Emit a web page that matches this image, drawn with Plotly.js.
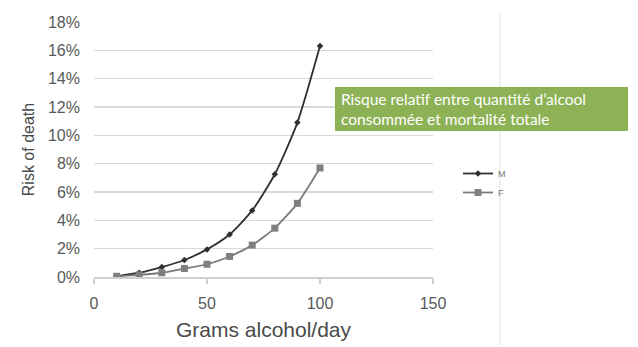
<!DOCTYPE html>
<html>
<head>
<meta charset="utf-8">
<script src="https://cdn.plot.ly/plotly-3.0.1.min.js"></script>
<style>html,body{margin:0;padding:0;background:#fff;}#chart{width:638px;height:347px;}</style>
</head>
<body>
<div id="chart"></div>
<script>
// Data
const grams = [10, 20, 30, 40, 50, 60, 70, 80, 90, 100];
const riskM = [0.05, 0.3, 0.7, 1.2, 1.95, 3.0, 4.7, 7.25, 10.9, 16.3];
const riskF = [0.05, 0.15, 0.3, 0.6, 0.9, 1.45, 2.25, 3.45, 5.2, 7.7];
const seriesNames = ['M', 'F'];
const yTicks = [0, 2, 4, 6, 8, 10, 12, 14, 16, 18];
const xTicks = [0, 50, 100, 150];
const boxText = 'Risque relatif entre quantité d’alcool<br>consommée et mortalité totale';

// Layout geometry (pixels)
const W = 638, H = 347;
const L = 94, R = 433, T = 22, B = 277;
const px = x => (x - L) / (R - L);
const py = y => (B - y) / (B - T);

const traces = [
  {
    x: grams, y: riskM, name: seriesNames[0], type: 'scatter', mode: 'lines+markers',
    line: {color: '#303030', width: 1.8, shape: 'spline', smoothing: 0.6},
    marker: {symbol: 'diamond', size: 5, color: '#303030'}
  },
  {
    x: grams, y: riskF, name: seriesNames[1], type: 'scatter', mode: 'lines+markers',
    line: {color: '#7a7a7a', width: 1.8, shape: 'spline', smoothing: 0.6},
    marker: {symbol: 'square', size: 7, color: '#7f7f7f'}
  }
];

const layout = {
  width: W, height: H,
  margin: {l: L, r: W - R, t: T, b: H - B, pad: 0},
  paper_bgcolor: '#ffffff', plot_bgcolor: '#ffffff',
  font: {family: 'Liberation Sans, Arial, sans-serif', color: '#555555'},
  showlegend: true,
  legend: {
    x: px(458), y: py(159), xanchor: 'left', yanchor: 'top',
    font: {size: 9, color: '#777777'}, itemwidth: 30,
    bgcolor: 'rgba(0,0,0,0)', tracegroupgap: 0
  },
  xaxis: {
    range: [0, 150], tickvals: xTicks, ticktext: xTicks.map(String),
    showgrid: false, zeroline: false,
    showline: true, linecolor: '#cfcfcf', linewidth: 1.5,
    ticks: 'outside', ticklen: 5, tickcolor: '#cfcfcf', tickwidth: 1.5,
    ticklabelstandoff: 6,
    tickfont: {size: 16, color: '#595959'},
    title: {text: 'Grams alcohol/day', font: {size: 21, color: '#4a4a4a'}, standoff: 11},
    fixedrange: true
  },
  yaxis: {
    range: [0, 18], tickvals: yTicks, ticktext: yTicks.map(v => v + '%'),
    showgrid: true, gridcolor: '#d9d9d9', gridwidth: 1.5,
    zeroline: false, showline: false, ticks: '',
    ticklabelstandoff: 13,
    tickfont: {size: 16, color: '#595959'},
    title: {text: 'Risk of death', font: {size: 16, color: '#4a4a4a'}, standoff: 9},
    fixedrange: true
  },
  shapes: [
    {type: 'line', xref: 'paper', yref: 'paper', x0: px(500), x1: px(500), y0: py(14), y1: py(345),
     line: {color: '#e0e0e0', width: 1}},
    {type: 'rect', xref: 'paper', yref: 'paper', x0: px(335), x1: px(628), y0: py(131), y1: py(87),
     fillcolor: '#8db255', line: {width: 0}, layer: 'above'}
  ],
  annotations: [
    {xref: 'paper', yref: 'paper', x: px(339), y: py(109), xanchor: 'left', yanchor: 'middle',
     text: boxText, showarrow: false, align: 'left',
     font: {family: 'Lato, Open Sans, sans-serif', size: 15.5, color: '#ffffff'}}
  ]
};

Plotly.newPlot('chart', traces, layout, {displayModeBar: false, staticPlot: true});
</script>
</body>
</html>
